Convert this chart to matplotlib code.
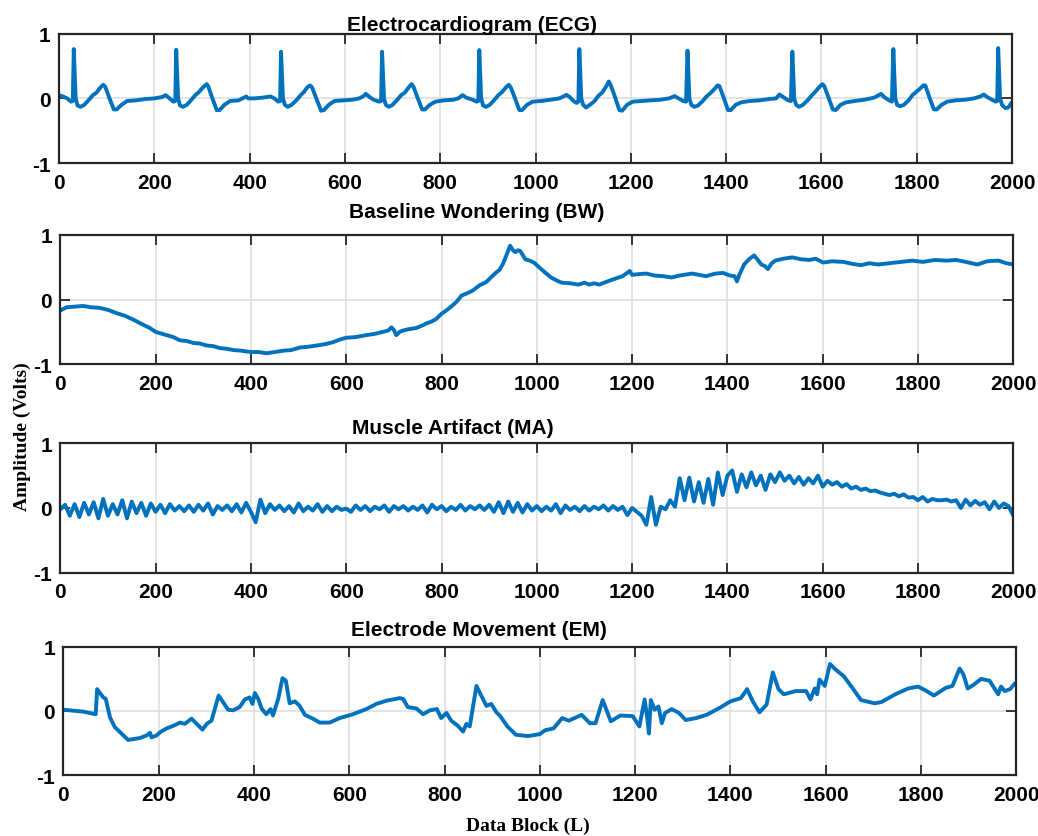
import matplotlib
matplotlib.use("Agg")
import matplotlib.pyplot as plt

# ---------------- data ----------------
titles = ["Electrocardiogram (ECG)", "Baseline Wondering (BW)",
          "Muscle Artifact (MA)", "Electrode Movement (EM)"]
x_ticks = [0, 200, 400, 600, 800, 1000, 1200, 1400, 1600, 1800, 2000]
y_ticks = [-1, 0, 1]

ecg_x = [0, 8, 17, 25, 29, 31, 35, 39, 45, 53, 63, 71, 79, 87, 93, 97, 105, 115, 121, 131, 143, 161, 181, 200,
         216, 224, 232, 240, 244, 246, 250, 254, 260, 268, 278, 286, 294, 302, 310, 313, 321, 331, 337, 347, 359, 377, 393, 397,
         410, 425, 436, 444, 452, 460, 464, 466, 470, 474, 480, 488, 498, 506, 514, 521, 527, 531, 539, 550, 556, 566, 578, 596, 616,
         630, 638, 644, 652, 660, 672, 676, 678, 682, 686, 692, 700, 710, 718, 726, 734, 740, 744, 752, 762, 768, 778, 790, 808, 828,
         838, 847, 855, 868, 876, 880, 882, 886, 890, 896, 904, 914, 922, 930, 938, 944, 948, 956, 966, 972, 982, 994, 1012, 1032, 1050,
         1056, 1065, 1072, 1080, 1086, 1090, 1092, 1096, 1100, 1106, 1114, 1124, 1132, 1140, 1148, 1154, 1158, 1166, 1176, 1182, 1192, 1204, 1222, 1242, 1262, 1280,
         1292, 1300, 1310, 1316, 1319, 1323, 1327, 1333, 1341, 1351, 1359, 1367, 1375, 1382, 1386, 1394, 1404, 1410, 1420, 1432, 1450, 1470, 1490, 1505,
         1512, 1520, 1530, 1536, 1539, 1543, 1547, 1553, 1561, 1571, 1579, 1587, 1595, 1602, 1606, 1614, 1624, 1630, 1640, 1652, 1670, 1690, 1710,
         1718, 1725, 1732, 1742, 1748, 1751, 1755, 1759, 1765, 1773, 1783, 1791, 1799, 1807, 1814, 1818, 1826, 1836, 1842, 1852, 1864, 1882, 1902, 1920,
         1934, 1941, 1948, 1958, 1966, 1969, 1971, 1975, 1979, 1986, 1992, 2000]
ecg_y = [0.05, 0.03, 0.0, -0.05, -0.04, 0.76, 0.0, -0.11, -0.13, -0.10, -0.02, 0.05, 0.09, 0.17, 0.21, 0.18, 0.02, -0.17, -0.17, -0.10, -0.04, -0.03, -0.01, 0.0,
         0.02, 0.05, 0.0, -0.05, -0.04, 0.75, 0.0, -0.11, -0.13, -0.10, -0.02, 0.05, 0.10, 0.17, 0.22, 0.19, 0.02, -0.18, -0.18, -0.10, -0.04, -0.03, 0.03, 0.0,
         0.0, 0.01, 0.02, 0.03, 0.0, -0.05, -0.04, 0.72, 0.0, -0.10, -0.13, -0.10, -0.03, 0.04, 0.10, 0.17, 0.20, 0.17, 0.02, -0.19, -0.18, -0.10, -0.04, -0.03, -0.02,
         0.0, 0.03, 0.07, 0.02, -0.02, -0.05, -0.04, 0.72, 0.0, -0.10, -0.13, -0.10, -0.02, 0.05, 0.09, 0.17, 0.22, 0.18, 0.02, -0.17, -0.17, -0.10, -0.05, -0.03, -0.02,
         0.0, 0.05, 0.01, -0.02, -0.05, -0.04, 0.745, 0.0, -0.11, -0.13, -0.10, -0.02, 0.05, 0.10, 0.17, 0.21, 0.17, 0.02, -0.18, -0.18, -0.10, -0.05, -0.04, -0.02, 0.0,
         0.02, 0.055, 0.02, -0.04, -0.07, -0.05, 0.76, 0.0, -0.10, -0.14, -0.10, -0.04, 0.04, 0.09, 0.18, 0.26, 0.20, 0.04, -0.18, -0.19, -0.10, -0.05, -0.04, -0.03, -0.02, 0.0,
         0.035, 0.0, -0.04, -0.05, 0.735, 0.0, -0.10, -0.13, -0.11, -0.04, 0.03, 0.08, 0.14, 0.20, 0.19, 0.03, -0.18, -0.18, -0.10, -0.06, -0.04, -0.03, -0.01, 0.0,
         0.06, 0.02, -0.03, -0.04, 0.72, 0.0, -0.10, -0.13, -0.10, -0.03, 0.04, 0.10, 0.17, 0.22, 0.19, 0.03, -0.17, -0.18, -0.10, -0.06, -0.04, -0.02, 0.01,
         0.04, 0.07, 0.02, -0.03, -0.05, 0.76, 0.0, -0.10, -0.12, -0.10, -0.03, 0.05, 0.10, 0.15, 0.20, 0.20, 0.03, -0.17, -0.17, -0.10, -0.05, -0.03, -0.02, 0.0,
         0.03, 0.06, 0.02, -0.02, -0.05, -0.04, 0.775, 0.0, -0.10, -0.15, -0.14, -0.06]

bw_x = [0, 13, 30, 48, 65, 83, 100, 118, 135, 153, 174, 188, 200, 223, 237, 251, 265, 279, 293, 307, 321, 335, 349, 363, 380, 399,
        415, 433, 450, 468, 485, 503, 520, 538, 555, 572, 586, 600, 620, 642, 660, 677, 688, 695, 700, 705, 712, 719, 730, 747, 760,
        768, 779, 789, 800, 810, 820, 831, 842, 855, 866, 880, 894, 905, 915, 922, 929, 935, 944, 950, 955, 960, 965, 976, 985, 994,
        1009, 1020, 1030, 1040, 1052, 1070, 1088, 1100, 1110, 1120, 1131, 1145, 1160, 1180, 1195, 1200, 1211, 1230, 1247, 1265, 1283,
        1300, 1326, 1340, 1355, 1375, 1391, 1405, 1415, 1420, 1425, 1435, 1445, 1456, 1463, 1471, 1478, 1485, 1492, 1500, 1518, 1536,
        1555, 1572, 1585, 1601, 1620, 1644, 1662, 1680, 1698, 1716, 1740, 1765, 1788, 1810, 1835, 1860, 1880, 1900, 1925, 1945, 1969,
        1985, 2000]
bw_y = [-0.17, -0.12, -0.11, -0.10, -0.12, -0.13, -0.16, -0.21, -0.25, -0.31, -0.39, -0.44, -0.50, -0.55, -0.58, -0.63, -0.64, -0.67,
        -0.68, -0.71, -0.72, -0.75, -0.76, -0.78, -0.79, -0.81, -0.81, -0.83, -0.81, -0.79, -0.78, -0.74, -0.73, -0.71, -0.69, -0.66,
        -0.62, -0.59, -0.58, -0.55, -0.53, -0.50, -0.48, -0.43, -0.47, -0.55, -0.50, -0.48, -0.46, -0.44, -0.40, -0.37, -0.34, -0.30,
        -0.22, -0.17, -0.11, -0.04, 0.06, 0.10, 0.14, 0.22, 0.27, 0.35, 0.42, 0.46, 0.55, 0.66, 0.83, 0.76, 0.73, 0.76, 0.75, 0.62,
        0.60, 0.57, 0.47, 0.40, 0.34, 0.30, 0.26, 0.25, 0.23, 0.26, 0.23, 0.25, 0.23, 0.27, 0.31, 0.36, 0.44, 0.38, 0.39, 0.40, 0.37,
        0.36, 0.34, 0.37, 0.40, 0.38, 0.36, 0.40, 0.41, 0.37, 0.36, 0.28, 0.38, 0.54, 0.62, 0.68, 0.62, 0.54, 0.52, 0.47, 0.55, 0.60,
        0.63, 0.65, 0.62, 0.61, 0.63, 0.57, 0.59, 0.58, 0.55, 0.53, 0.56, 0.54, 0.56, 0.58, 0.60, 0.58, 0.61, 0.60, 0.61, 0.58, 0.54,
        0.59, 0.60, 0.56, 0.54]

ma_x = list(range(0, 2001, 10))
ma_y = [-0.02, 0.05, -0.12, 0.06, -0.14, 0.08, -0.10, 0.09, -0.16, 0.14, -0.12, 0.06, -0.10, 0.12, -0.16, 0.10, -0.08, 0.08, -0.12, 0.07, -0.06,
        0.05, -0.08, 0.06, -0.04, 0.03, -0.05, 0.04, -0.06, 0.05, -0.04, 0.07, -0.10, 0.03, -0.03, 0.04, -0.05, 0.06, -0.07, 0.08, -0.06,
        -0.22, 0.13, -0.08, 0.06, -0.03, 0.04, -0.05, 0.03, -0.07, 0.07, -0.05, 0.02, -0.04, 0.06, -0.06, 0.03, -0.05, 0.02, -0.03, -0.01,
        -0.06, 0.04, -0.03, 0.03, -0.05, 0.02, -0.02, 0.04, -0.06, 0.03, -0.02, 0.03, -0.04, 0.02, -0.03, 0.04, -0.07, 0.05, -0.02, 0.03,
        -0.05, 0.02, -0.03, 0.05, -0.04, 0.03, -0.02, 0.04, -0.03, 0.05, -0.06, 0.09, -0.08, 0.10, -0.06, 0.08, -0.07, 0.06, -0.04, 0.03,
        -0.05, 0.02, -0.04, 0.06, -0.08, 0.04, -0.03, 0.02, -0.05, 0.03, -0.04, 0.02, -0.02, 0.04, -0.04, 0.03, -0.03, 0.02, -0.11, 0.0,
        -0.06, -0.12, -0.26, 0.17, -0.26, 0.02, -0.02, 0.12, 0.02, 0.46, 0.12, 0.47, 0.10, 0.40, 0.08, 0.45, 0.05, 0.55, 0.20, 0.50,
        0.58, 0.25, 0.52, 0.32, 0.55, 0.35, 0.50, 0.28, 0.52, 0.40, 0.55, 0.42, 0.50, 0.38, 0.48, 0.36, 0.46, 0.38, 0.50, 0.33,
        0.42, 0.36, 0.40, 0.33, 0.37, 0.30, 0.33, 0.28, 0.30, 0.26, 0.27, 0.24, 0.22, 0.20, 0.22, 0.18, 0.21, 0.16, 0.17, 0.12,
        0.17, 0.10, 0.14, 0.12, 0.12, 0.13, 0.10, 0.12, 0.0, 0.13, 0.04, 0.11, 0.05, 0.09, -0.02, 0.10, 0.0, 0.07, 0.03, -0.12]

em_x = [0, 42, 68, 71, 84, 89, 98, 108, 126, 136, 161, 175, 182, 185, 196, 203, 217, 231, 245, 255, 269, 280, 292, 301, 311, 318,
        326, 336, 346, 356, 370, 381, 391, 397, 402, 409, 416, 426, 435, 440, 451, 460, 467, 475, 486, 496, 507, 524, 538, 559, 580,
        608, 636, 657, 678, 706, 713, 723, 741, 755, 769, 784, 793, 804, 814, 828, 839, 846, 853, 867, 877, 888, 898, 909,
        917, 932, 950, 975, 1000, 1011, 1029, 1047, 1061, 1088, 1105, 1117, 1132, 1149, 1169, 1195, 1209, 1220, 1226, 1229, 1233,
        1241, 1249, 1256, 1263, 1277, 1292, 1306, 1328, 1350, 1378, 1400, 1422, 1435, 1447, 1461, 1476, 1489, 1501, 1512, 1537,
        1559, 1568, 1577, 1582, 1587, 1598, 1609, 1620, 1638, 1656, 1674, 1703, 1717, 1746, 1773, 1794, 1812, 1827, 1852, 1866,
        1881, 1889, 1898, 1911, 1926, 1944, 1962, 1968, 1976, 1987, 1997, 2000]
em_y = [0.02, -0.01, -0.05, 0.34, 0.21, 0.19, -0.10, -0.25, -0.38, -0.45, -0.42, -0.38, -0.34, -0.41, -0.38, -0.33, -0.27, -0.23,
        -0.18, -0.20, -0.12, -0.20, -0.29, -0.20, -0.15, 0.03, 0.24, 0.13, 0.02, 0.01, 0.06, 0.18, 0.21, 0.11, 0.28, 0.19, 0.04,
        -0.05, 0.03, -0.07, 0.19, 0.51, 0.47, 0.12, 0.15, 0.08, -0.06, -0.12, -0.18, -0.18, -0.11, -0.05, 0.03, 0.11, 0.16, 0.20,
        0.19, 0.06, 0.04, -0.05, 0.01, 0.03, -0.11, -0.03, -0.15, -0.23, -0.32, -0.20, -0.24, 0.39, 0.24, 0.08, 0.11, -0.02,
        -0.08, -0.24, -0.37, -0.39, -0.36, -0.30, -0.27, -0.11, -0.15, -0.06, -0.19, -0.19, 0.17, -0.16, -0.07, -0.08, -0.24, 0.18,
        -0.14, -0.35, 0.17, 0.02, 0.07, -0.19, -0.03, 0.03, -0.03, -0.14, -0.11, -0.06, 0.05, 0.15, 0.20, 0.34, 0.15, -0.02, 0.10,
        0.60, 0.34, 0.26, 0.31, 0.31, 0.18, 0.35, 0.26, 0.49, 0.39, 0.73, 0.65, 0.54, 0.36, 0.17, 0.12, 0.14, 0.26, 0.35, 0.38,
        0.31, 0.24, 0.36, 0.39, 0.66, 0.57, 0.35, 0.41, 0.50, 0.47, 0.26, 0.38, 0.31, 0.34, 0.43, 0.43]

series_x = [ecg_x, bw_x, ma_x, em_x]
series_y = [ecg_y, bw_y, ma_y, em_y]

# ---------------- layout ----------------
W, H = 1038, 837
plt.rcParams['axes.unicode_minus'] = False
fig = plt.figure(figsize=(W / 100, H / 100), dpi=100)

# axes boxes in pixels: left, top, right, bottom
boxes = [(59.0, 34.5, 1012.0, 164.3),
         (60.3, 235.7, 1013.3, 365.3),
         (60.3, 444.3, 1013.3, 573.7),
         (63.3, 647.7, 1016.3, 776.3)]
# title (left x, baseline y) in pixels
title_pos = [(346.7, 30.7), (349.0, 218.3), (352.3, 434.3), (350.7, 636.0)]

line_color = '#0072BD'
spine_color = '#262626'

for i in range(4):
    l, t, r, b = boxes[i]
    ax = fig.add_axes([l / W, 1 - b / H, (r - l) / W, (b - t) / H])
    ax.plot(series_x[i], series_y[i], color=line_color, lw=2.8,
            solid_joinstyle='round', solid_capstyle='round')
    ax.set_xlim(0, 2000)
    ax.set_ylim(-1, 1)
    ax.set_xticks(x_ticks)
    ax.set_yticks(y_ticks)
    ax.set_xticklabels([str(v) for v in x_ticks])
    ax.set_yticklabels([str(v) for v in y_ticks])
    for lab in ax.get_xticklabels() + ax.get_yticklabels():
        lab.set_fontfamily('Liberation Sans')
        lab.set_fontweight('bold')
        lab.set_fontsize(15)
    ax.tick_params(direction='in', length=7.2, width=1.3, color=spine_color,
                   top=True, right=True, labelcolor='black')
    ax.tick_params(axis='x', pad=7)
    ax.tick_params(axis='y', pad=6)
    ax.grid(True, color='#dcdcdc', lw=1.1)
    ax.set_axisbelow(True)
    for s in ax.spines.values():
        s.set_linewidth(1.6)
        s.set_color(spine_color)
    tx, ty = title_pos[i]
    fig.text(tx / W, 1 - ty / H, titles[i], ha='left', va='baseline',
             fontfamily='Liberation Sans', fontweight='bold', fontsize=15)

fig.text(22 / W, 1 - 437 / H, "Amplitude (Volts)", rotation=90, ha='center', va='center',
         fontfamily='Liberation Serif', fontweight='bold', fontsize=14)
fig.text(528 / W, 1 - 830.7 / H, "Data Block (L)", ha='center', va='baseline',
         fontfamily='Liberation Serif', fontweight='bold', fontsize=14)

fig.savefig("out.png", dpi=100)
